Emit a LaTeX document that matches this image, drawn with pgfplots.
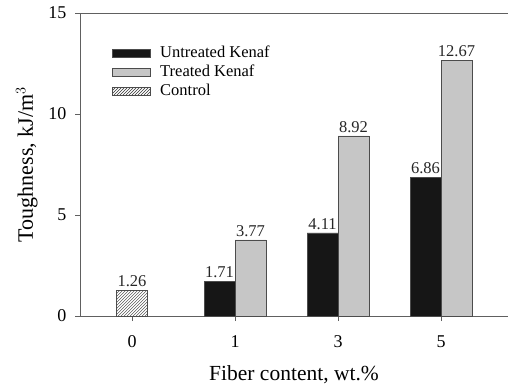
\documentclass[border=0pt]{standalone}
\usepackage{fontspec}
\setmainfont{Liberation Serif}
\usepackage{pgfplots}
\pgfplotsset{compat=1.18}
\usetikzlibrary{patterns}
\definecolor{barblack}{HTML}{161616}
\definecolor{bargrey}{HTML}{C6C6C6}
\definecolor{axgrey}{HTML}{606060}
\begin{document}
\begin{tikzpicture}
\pgfplotsset{mylegend/.style={legend image code/.code={\draw[##1] (0pt,-4pt) rectangle (38pt,4pt); \path (46pt,0pt);}}}
\begin{axis}[
  x=103pt, y=20.2pt,
  xmin=-0.505, xmax=3.65, ymin=0, ymax=15,
  axis x line*=bottom, axis y line*=left,
  axis line style={draw=axgrey, line width=0.8pt},
  xtick={0,1,2,3}, xticklabels={0,1,3,5},
  ytick={0,5,10,15},
  tick style={draw=axgrey, line width=0.8pt},
  tick align=outside, major tick length=5pt,
  tick label style={font=\fontsize{18}{18}\selectfont},
  xticklabel style={yshift=-11pt},
  yticklabel style={xshift=-5pt},
  /pgf/number format/assume math mode=true,
  xlabel={Fiber content, wt.\%}, ylabel={Toughness, kJ/m$^3$},
  xlabel style={font=\fontsize{21.5}{21.5}\selectfont, yshift=-11pt},
  ylabel style={font=\fontsize{22}{22}\selectfont, yshift=4pt},
  ybar, bar width=31pt,
  nodes near coords,
  nodes near coords style={font=\fontsize{16.5}{16.5}\selectfont, text=black!85, /pgf/number format/.cd, fixed, precision=2, fixed zerofill},
  legend style={at={(0.075,0.90)}, anchor=north west, draw=none, fill=none,
    font=\fontsize{16.5}{16.5}\selectfont, row sep=0pt, inner sep=0pt,
    nodes={text height=12pt, text depth=4pt, inner sep=1.5pt}},
  legend cell align=left,
]
\addplot[fill=barblack, draw=black!70, bar shift=-15.5pt, mylegend] coordinates {(1,1.71) (2,4.11) (3,6.86)};
\addlegendentry{Untreated Kenaf}
\addplot[fill=bargrey, draw=black!70, bar shift=15.5pt, mylegend] coordinates {(1,3.77) (2,8.92) (3,12.67)};
\addlegendentry{Treated Kenaf}
\addplot[pattern=north east lines, pattern color=black!80, draw=black!70, bar shift=0pt, mylegend] coordinates {(0,1.26)};
\addlegendentry{Control}
\draw[axgrey, line width=0.8pt] (rel axis cs:0,1) -- (rel axis cs:1,1);
\coordinate (bl) at (rel axis cs:0,0);
\coordinate (tr) at (rel axis cs:1,1);
\end{axis}
\pgfresetboundingbox
\path ([shift={(-80pt,-73pt)}]bl) rectangle ([shift={(1pt,13pt)}]tr);
\end{tikzpicture}
\end{document}
